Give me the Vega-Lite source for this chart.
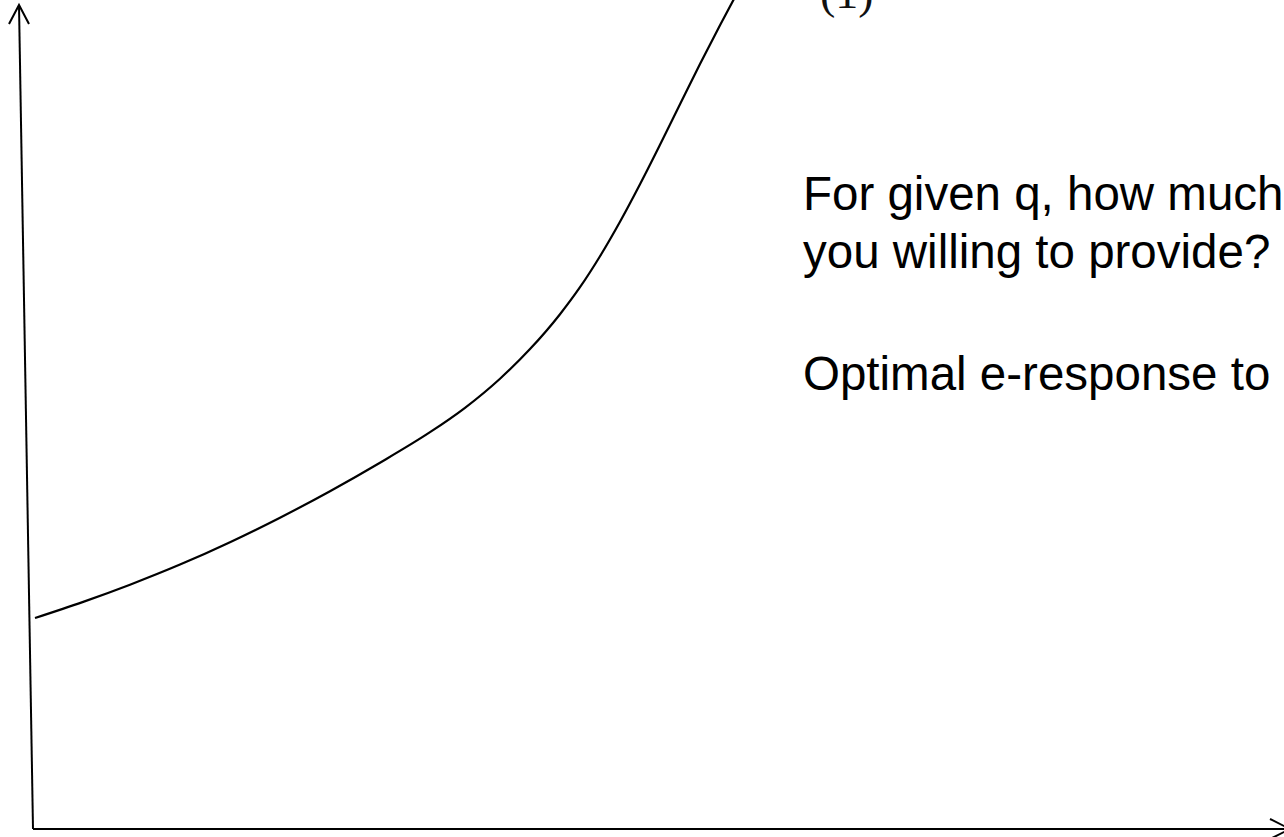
{
  "$schema": "https://vega.github.io/schema/vega-lite/v6.json",
  "width": 1284,
  "height": 837,
  "padding": 0,
  "autosize": {"type": "none"},
  "background": "white",
  "config": {"view": {"stroke": null}},
  "datasets": {
    "axes": [
      {"part": "e-axis", "k": 0, "q": -0.04, "e": 0},
      {"part": "e-axis", "k": 1, "q": -0.18, "e": 8.24},
      {"part": "e-head", "k": 0, "q": -0.28, "e": 8.05},
      {"part": "e-head", "k": 1, "q": -0.18, "e": 8.24},
      {"part": "e-head", "k": 2, "q": -0.08, "e": 8.05},
      {"part": "q-axis", "k": 0, "q": -0.04, "e": 0},
      {"part": "q-axis", "k": 1, "q": 12.53, "e": 0},
      {"part": "q-head", "k": 0, "q": 12.33, "e": 0.1},
      {"part": "q-head", "k": 1, "q": 12.53, "e": 0},
      {"part": "q-head", "k": 2, "q": 12.33, "e": -0.1}
    ],
    "response": [
      {"q": -0.02, "e": 2.11},
      {"q": 0.455, "e": 2.269},
      {"q": 0.93, "e": 2.443},
      {"q": 1.43, "e": 2.644},
      {"q": 1.93, "e": 2.868},
      {"q": 2.43, "e": 3.113},
      {"q": 2.93, "e": 3.378},
      {"q": 3.43, "e": 3.663},
      {"q": 3.93, "e": 3.968},
      {"q": 4.28, "e": 4.212},
      {"q": 4.63, "e": 4.503},
      {"q": 4.93, "e": 4.799},
      {"q": 5.23, "e": 5.148},
      {"q": 5.43, "e": 5.418},
      {"q": 5.63, "e": 5.728},
      {"q": 5.83, "e": 6.073},
      {"q": 6.03, "e": 6.448},
      {"q": 6.23, "e": 6.843},
      {"q": 6.43, "e": 7.248},
      {"q": 6.63, "e": 7.651},
      {"q": 6.83, "e": 8.038},
      {"q": 7.03, "e": 8.413},
      {"q": 7.23, "e": 8.778}
    ],
    "notes": [
      {"q": 7.66, "e": 6.19, "label": "For given q, how much"},
      {"q": 7.66, "e": 5.61, "label": "you willing to provide?"},
      {"q": 7.66, "e": 4.39, "label": "Optimal e-response to"}
    ],
    "eqno": [
      {"q": 7.83, "e": 8.21, "label": "(1)"}
    ]
  },
  "encoding": {
    "x": {"field": "q", "type": "quantitative", "scale": {"domain": [-0.37, 12.47], "nice": false, "zero": false}, "axis": null},
    "y": {"field": "e", "type": "quantitative", "scale": {"domain": [-0.08, 8.29], "nice": false, "zero": false}, "axis": null}
  },
  "layer": [
    {
      "data": {"name": "axes"},
      "mark": {"type": "line", "color": "black", "strokeWidth": 2, "clip": true, "strokeCap": "butt"},
      "encoding": {
        "detail": {"field": "part"},
        "order": {"field": "k", "type": "quantitative"}
      }
    },
    {
      "data": {"name": "response"},
      "mark": {"type": "line", "color": "black", "strokeWidth": 2.2, "interpolate": "monotone", "clip": true},
      "encoding": {}
    },
    {
      "data": {"name": "notes"},
      "mark": {"type": "text", "font": "Liberation Sans", "fontSize": 47.5, "align": "left", "baseline": "alphabetic", "color": "black", "clip": true},
      "encoding": {"text": {"field": "label"}}
    },
    {
      "data": {"name": "eqno"},
      "mark": {"type": "text", "font": "Liberation Serif", "fontSize": 46, "align": "left", "baseline": "alphabetic", "color": "#111111", "clip": true},
      "encoding": {"text": {"field": "label"}}
    }
  ]
}
